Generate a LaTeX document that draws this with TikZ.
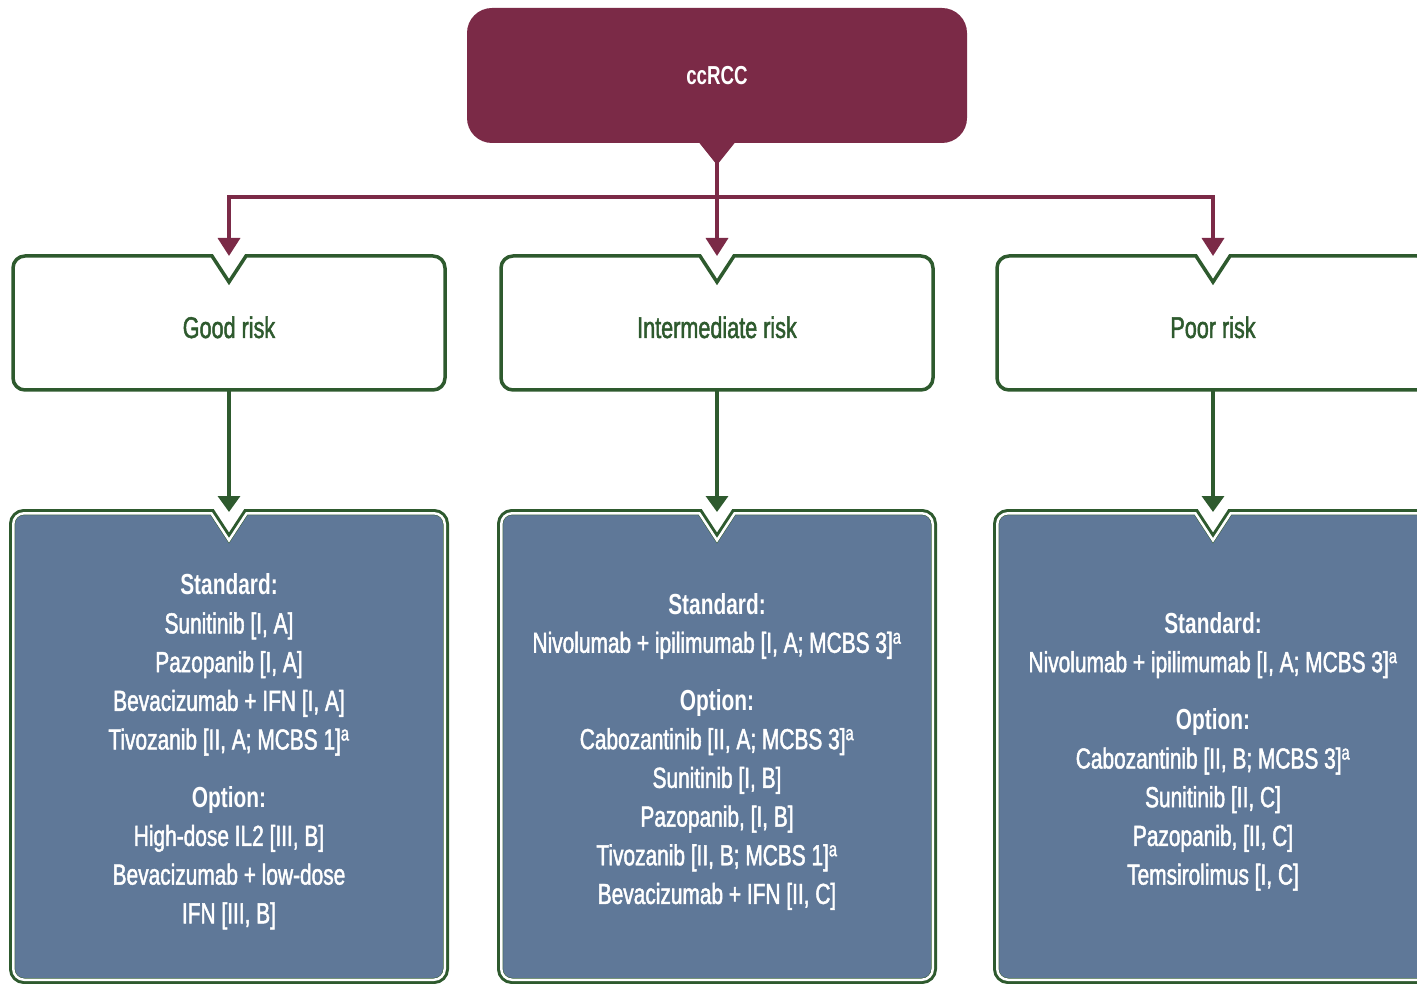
\documentclass[tikz,border=0pt]{standalone}
\usepackage{fontspec}
\setmainfont{Liberation Sans}[FakeStretch=0.72, UprightFeatures={FakeBold=1.6}]
\usetikzlibrary{arrows.meta,calc,backgrounds}
\definecolor{rccred}{RGB}{123,42,71}
\definecolor{riskgreen}{RGB}{46,90,46}
\definecolor{txblue}{RGB}{95,120,152}

\begin{document}
\begin{tikzpicture}[
  x=1pt, y=1pt,
  topbox/.style={rectangle, rounded corners=25pt, fill=rccred, text=white, minimum width=500pt, minimum height=135pt, inner sep=0pt, outer sep=0pt, font=\bfseries\fontsize{26}{30}\selectfont},
  riskbox/.style={rectangle, minimum width=432pt, minimum height=134pt, inner sep=0pt, outer sep=0pt, text height=30pt, text depth=0pt, text=riskgreen, font=\fontsize{30}{36}\selectfont},
  txbox/.style={rectangle, minimum width=434pt, minimum height=469pt, inner sep=0pt, outer sep=0pt},
  txlist/.style={text=white, align=center, inner sep=0pt, font=\fontsize{29}{38.7}\selectfont},
  notched/.style={insert path={($(#1.north)+(-17pt,0)$) -- ($(#1.north west)+(12pt,0)$) arc[start angle=90,end angle=180,radius=12pt] -- ($(#1.south west)+(0,12pt)$) arc[start angle=180,end angle=270,radius=12pt] -- ($(#1.south east)+(-12pt,0)$) arc[start angle=270,end angle=360,radius=12pt] -- ($(#1.north east)+(0,-12pt)$) arc[start angle=0,end angle=90,radius=12pt] -- ($(#1.north)+(17pt,0)$) -- ($(#1.north)+(0,-26pt)$) -- cycle}},
  redline/.style={draw=rccred, line width=3.5pt},
  greenline/.style={draw=riskgreen, line width=3.5pt},
]
\clip (0,0) rectangle (1417,-984);

% Top box
\node[topbox] (ccrcc) at (717,-75.5) {ccRCC};
\fill[rccred] ($(ccrcc.south)+(-18pt,0.5pt)$) -- ($(ccrcc.south)+(18pt,0.5pt)$) -- ($(ccrcc.south)+(0,-22pt)$) -- cycle;

% Risk groups
\node[riskbox] (good) at (229,-323) {Good risk};
\node[riskbox] (inter) at (717,-323) {Intermediate risk};
\node[riskbox] (poor) at (1213,-323) {Poor risk};
\foreach \n in {good,inter,poor}
  \draw[greenline, notched=\n];

% Treatments
\node[txbox] (goodtx) at (229,-746.5) {};
\node[txbox] (intertx) at (717,-746.5) {};
\node[txbox] (poortx) at (1213,-746.5) {};
\begin{scope}[on background layer]
  \foreach \n in {goodtx,intertx,poortx} {
    \fill[txblue, notched=\n];
    \draw[riskgreen, line width=6pt, notched=\n];
    \begin{scope}
      \clip[notched=\n];
      \draw[white, line width=5pt, notched=\n];
    \end{scope}
  }
\end{scope}
\node[txlist] (goodlist) at ([yshift=-5pt]goodtx.center) {\textbf{Standard:}\\ Sunitinib [I, A]\\ Pazopanib [I, A]\\ Bevacizumab + IFN [I, A]\\ Tivozanib [II, A; MCBS 1]\textsuperscript{a}\\[19pt] \textbf{Option:}\\ High-dose IL2 [III, B]\\ Bevacizumab + low-dose\\ IFN [III, B]};
\node[txlist] (interlist) at ([yshift=-5pt]intertx.center) {\textbf{Standard:}\\ Nivolumab + ipilimumab [I, A; MCBS 3]\textsuperscript{a}\\[19pt] \textbf{Option:}\\ Cabozantinib [II, A; MCBS 3]\textsuperscript{a}\\ Sunitinib [I, B]\\ Pazopanib, [I, B]\\ Tivozanib [II, B; MCBS 1]\textsuperscript{a}\\ Bevacizumab + IFN [II, C]};
\node[txlist] (poorlist) at ([yshift=-5pt]poortx.center) {\textbf{Standard:}\\ Nivolumab + ipilimumab [I, A; MCBS 3]\textsuperscript{a}\\[19pt] \textbf{Option:}\\ Cabozantinib [II, B; MCBS 3]\textsuperscript{a}\\ Sunitinib [II, C]\\ Pazopanib, [II, C]\\ Temsirolimus [I, C]};

% Arrows
\coordinate (fork) at (717,-197);
\draw[redline, -{Triangle[length=18pt,width=22pt]}] (ccrcc.south) -- (inter.north);
\draw[redline, -{Triangle[length=18pt,width=22pt]}] (fork) -| (good.north);
\draw[redline, -{Triangle[length=18pt,width=22pt]}] (fork) -| (poor.north);
\foreach \n in {good,inter,poor}
  \draw[greenline, -{Triangle[length=16pt,width=22pt]}] (\n.south) -- (\n tx.north);

\end{tikzpicture}
\end{document}
